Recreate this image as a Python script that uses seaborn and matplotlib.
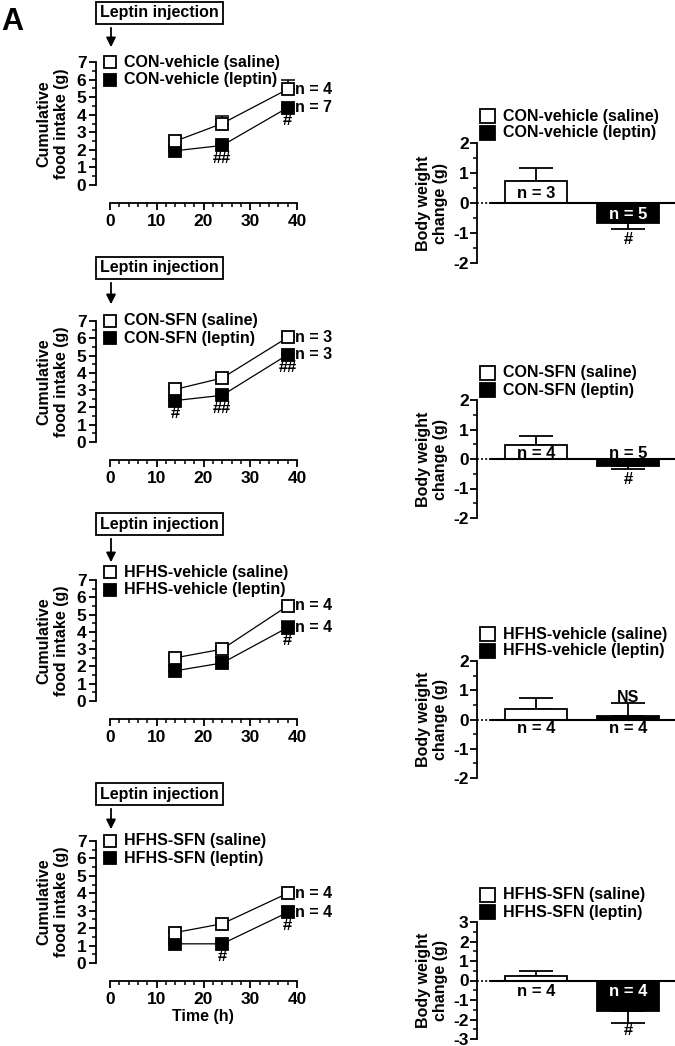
import matplotlib
matplotlib.use("Agg")
import matplotlib.pyplot as plt
from matplotlib.patches import Rectangle, FancyArrowPatch
from matplotlib.ticker import MultipleLocator
import seaborn as sns

# ---- data -------------------------------------------------------------
times = [14, 24, 38]
groups = ["CON-vehicle", "CON-SFN", "HFHS-vehicle", "HFHS-SFN"]

# cumulative food intake (g): mean and upper SEM
saline_intake = [[2.5, 3.5, 5.45], [3.05, 3.7, 6.05], [2.5, 3.0, 5.5], [1.75, 2.25, 4.0]]
saline_sem = [[0.15, 0.45, 0.5], [0.1, 0.1, 0.1], [0.1, 0.15, 0.1], [0.1, 0.1, 0.1]]
leptin_intake = [[1.95, 2.25, 4.4], [2.4, 2.7, 5.05], [1.75, 2.2, 4.25], [1.1, 1.1, 2.9]]
leptin_sem = [[0.1, 0.1, 0.15], [0.1, 0.1, 0.1], [0.3, 0.35, 0.4], [0.1, 0.1, 0.3]]
leptin_marks = [["", "##", "#"], ["#", "##", "##"], ["", "", "#"], ["", "#", "#"]]
n_saline = [4, 3, 4, 4]
n_leptin = [7, 3, 4, 4]

# body weight change (g)
bw_saline = [0.75, 0.48, 0.37, 0.22]
bw_saline_sem = [0.42, 0.3, 0.36, 0.27]
bw_leptin = [-0.67, -0.23, 0.11, -1.54]
bw_leptin_sem = [0.2, 0.11, 0.45, 0.62]
bw_n_saline = [3, 4, 4, 4]
bw_n_leptin = [5, 5, 4, 4]
bw_marks = ["#", "#", "NS", "#"]
bw_limits = [2, 2, 2, 3]

# ---- layout (pixels) --------------------------------------------------
W, H = 675, 1046
line_tops = [62, 321, 580, 841]
line_bottoms = [185, 442, 701, 963]
bar_tops = [143, 400, 661, 922]
bar_bottoms = [263, 518, 778, 1039]
legend_y = [7, 7, 7.45, 7]
box_offset = [49, 53, 56, 47]
arrow_gap = [12, 14, 15, 9]
bw_n_y = [[0.33, -0.37], [0.18, 0.2], [-0.3, -0.3], [-0.55, -0.55]]
bw_mark_y = [-1.22, -0.7, 0.75, -2.55]

sns.set_theme(style="ticks")
plt.rcParams["font.family"] = ["Liberation Sans", "DejaVu Sans"]
plt.rcParams.update({
    "font.weight": "bold",
    "axes.labelweight": "bold",
    "text.color": "black",
    "axes.edgecolor": "black",
    "axes.labelcolor": "black",
    "xtick.color": "black",
    "ytick.color": "black",
    "axes.linewidth": 1.3,
    "axes.unicode_minus": False,
})

FS = 11.5
TS = 12.5
MS = 9
fig = plt.figure(figsize=(W / 100, H / 100), dpi=100)


def fx(x):
    return x / W


def fy(y):
    return 1 - y / H


def style_ticks(ax):
    ax.tick_params(which="major", length=5, width=1.3, labelsize=TS, pad=2)
    ax.tick_params(which="minor", length=3, width=1.1)


fig.text(fx(1), fy(30), "A", fontsize=22, va="baseline", ha="left")

for i, g in enumerate(groups):
    # ---- cumulative food intake ----
    top, bot = line_tops[i], line_bottoms[i]
    ax = fig.add_axes([fx(110), fy(bot), (297 - 110) / W, (bot - top) / H])
    ax.errorbar(times, saline_intake[i], yerr=[[0, 0, 0], saline_sem[i]], fmt="none",
                ecolor="black", elinewidth=1.1, capsize=4.7, capthick=1.1, zorder=2)
    ax.errorbar(times, leptin_intake[i], yerr=[[0, 0, 0], leptin_sem[i]], fmt="none",
                ecolor="black", elinewidth=1.1, capsize=4.7, capthick=1.1, zorder=2)
    sns.lineplot(x=times, y=leptin_intake[i], color="black", lw=0.9, marker="s", ms=MS,
                 mfc="black", mec="black", mew=1.3, ax=ax, zorder=3)
    sns.lineplot(x=times, y=saline_intake[i], color="black", lw=0.9, marker="s", ms=MS,
                 mfc="white", mec="black", mew=1.3, ax=ax, zorder=4)
    for ln in ax.lines:
        ln.set_clip_on(False)

    ax.set_xlim(0, 40)
    ax.set_ylim(0, 7)
    sns.despine(ax=ax)
    ax.spines["left"].set_bounds(0, 7)
    ax.spines["left"].set_position(("outward", 10))
    ax.spines["bottom"].set_bounds(0, 40)
    ax.spines["bottom"].set_position(("outward", 13))
    ax.xaxis.set_major_locator(MultipleLocator(10))
    ax.xaxis.set_minor_locator(MultipleLocator(2))
    ax.yaxis.set_major_locator(MultipleLocator(1))
    ax.yaxis.set_minor_locator(MultipleLocator(0.5))
    style_ticks(ax)
    ax.tick_params(axis="x", pad=3)

    # legend inside the panel
    ly = legend_y[i]
    ax.plot([0], [ly], ls="none", marker="s", ms=MS - 0.5, mfc="white", mec="black", mew=1.3,
            clip_on=False)
    ax.plot([0], [ly - 1], ls="none", marker="s", ms=MS - 0.5, mfc="black", mec="black", mew=1.3,
            clip_on=False)
    ax.annotate(f"{g} (saline)", xy=(0, ly), xytext=(14, 0), textcoords="offset pixels",
                va="center", ha="left", fontsize=FS, annotation_clip=False)
    ax.annotate(f"{g} (leptin)", xy=(0, ly - 1), xytext=(14, 0), textcoords="offset pixels",
                va="center", ha="left", fontsize=FS, annotation_clip=False)

    # n labels and significance marks
    ax.annotate(f"n = {n_saline[i]}", xy=(times[-1], saline_intake[i][-1]), xytext=(7, 0),
                textcoords="offset pixels", va="center", ha="left", fontsize=FS,
                annotation_clip=False)
    ax.annotate(f"n = {n_leptin[i]}", xy=(times[-1], leptin_intake[i][-1]), xytext=(7, 0),
                textcoords="offset pixels", va="center", ha="left", fontsize=FS,
                annotation_clip=False)
    for t, v, m in zip(times, leptin_intake[i], leptin_marks[i]):
        if m:
            ax.annotate(m, xy=(t, v), xytext=(0, -13), textcoords="offset pixels",
                        va="center", ha="center", fontsize=12, annotation_clip=False)

    fig.text(fx(53), fy((top + bot) / 2), "Cumulative\nfood intake (g)", rotation=90,
             ha="center", va="center", multialignment="center", fontsize=FS)

    # leptin injection box + arrow
    cy = top - box_offset[i]
    fig.text(fx(159.5), fy(cy), "Leptin injection", ha="center", va="center", fontsize=FS,
             bbox=dict(boxstyle="square,pad=0.25", fc="white", ec="black", lw=1.3))
    fig.add_artist(FancyArrowPatch((fx(111), fy(cy + 12)), (fx(111), fy(top - arrow_gap[i])),
                                   transform=fig.transFigure, arrowstyle="-|>",
                                   mutation_scale=14, lw=1.3, color="black"))

    # ---- body weight change ----
    bt, bb = bar_tops[i], bar_bottoms[i]
    lim = bw_limits[i]
    bx = fig.add_axes([fx(477), fy(bb), 198 / W, (bb - bt) / H])
    vals = [bw_saline[i], bw_leptin[i]]
    sems = [bw_saline_sem[i], bw_leptin_sem[i]]
    sns.barplot(x=["saline", "leptin"], y=vals, hue=["saline", "leptin"],
                palette=["white", "black"], saturation=1, edgecolor="black", linewidth=1.3,
                width=0.674, legend=False, ax=bx, zorder=2)
    lower = [s if v < 0 else 0 for v, s in zip(vals, sems)]
    upper = [s if v >= 0 else 0 for v, s in zip(vals, sems)]
    bx.errorbar([0, 1], vals, yerr=[lower, upper], fmt="none", ecolor="black",
                elinewidth=1.3, capsize=12, capthick=1.3, zorder=1)
    x0, x1 = -0.643, 1.507
    bx.set_xlim(x0, x1)
    bx.set_ylim(-lim, lim)
    bx.plot([x0, -0.5], [0, 0], ls=(0, (1, 1.3)), lw=1.3, color="black", clip_on=False)
    bx.plot([-0.5, x1 + 0.05], [0, 0], lw=1.5, color="black", clip_on=False, zorder=3)
    sns.despine(ax=bx, bottom=True)
    bx.spines["left"].set_bounds(-lim, lim)
    bx.set_xticks([])
    bx.set_xlabel("")
    bx.yaxis.set_major_locator(MultipleLocator(1))
    bx.yaxis.set_minor_locator(MultipleLocator(0.5))
    style_ticks(bx)
    bx.tick_params(axis="y", pad=1)

    for k, (v, n) in enumerate(zip(vals, [bw_n_saline[i], bw_n_leptin[i]])):
        ty = bw_n_y[i][k]
        inside_black = k == 1 and min(v, 0) < ty < max(v, 0)
        bx.text(k, ty, f"n = {n}", ha="center", va="center", fontsize=12,
                color="white" if inside_black else "black", zorder=5)
    bx.text(1, bw_mark_y[i], bw_marks[i], ha="center", va="center",
            fontsize=12 if bw_marks[i] == "#" else FS, zorder=5)

    fig.text(fx(432), fy((bt + bb) / 2), "Body weight\nchange (g)", rotation=90,
             ha="center", va="center", multialignment="center", fontsize=FS)

    # legend above the bars
    for row, (lab, col) in enumerate([("saline", "white"), ("leptin", "black")]):
        ry = bt - 27 + row * 17
        fig.add_artist(Rectangle((fx(480), fy(ry + 7)), 15 / W, 14 / H, fc=col, ec="black",
                                 lw=1.3, transform=fig.transFigure))
        fig.text(fx(503), fy(ry), f"{g} ({lab})", ha="left", va="center", fontsize=FS)

fig.text(fx(203), fy(1017), "Time (h)", ha="center", va="center", fontsize=FS)

fig.savefig("out.png", dpi=100)
